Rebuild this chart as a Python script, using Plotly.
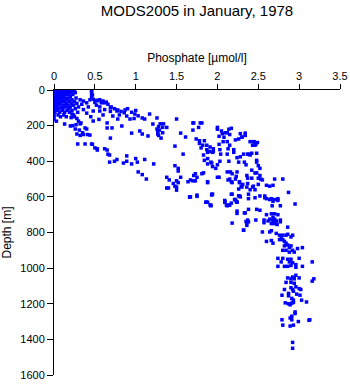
import plotly.graph_objects as go

surface_obs = [
    (0.00,0),(0.04,0),(0.08,0),(0.12,0),(0.16,0),(0.20,0),(0.25,0),
    (0.01,8),(0.05,8),(0.09,8),(0.13,8),(0.17,8),(0.22,8),
    (0.00,15),(0.03,15),(0.07,15),(0.11,15),(0.15,15),(0.19,15),(0.26,15),
    (0.02,25),(0.06,25),(0.10,25),(0.14,25),(0.18,25),(0.23,25),
    (0.00,35),(0.04,35),(0.08,35),(0.12,35),(0.20,35),
    (0.01,45),(0.05,45),(0.09,45),(0.14,45),(0.18,45),(0.27,45),
    (0.00,55),(0.03,55),(0.07,55),(0.11,55),(0.16,55),(0.22,55),
    (0.02,65),(0.06,65),(0.10,65),(0.13,65),(0.19,65),(0.25,65),
    (0.00,75),(0.04,75),(0.08,75),(0.15,75),(0.21,75),(0.28,75),
    (0.01,85),(0.05,85),(0.12,85),(0.17,85),(0.24,85),
    (0.00,95),(0.03,95),(0.09,95),(0.14,95),(0.20,95),(0.30,95),
    (0.02,105),(0.06,105),(0.11,105),(0.18,105),(0.26,105),
    (0.00,115),(0.04,115),(0.10,115),(0.16,115),(0.22,115),
    (0.01,125),(0.07,125),(0.13,125),(0.19,125),(0.29,125),
    (0.00,140),(0.05,140),(0.12,140),(0.24,140),
    (0.00,150),(0.08,150),(0.15,150),(0.21,155),
    (0.00,165),(0.03,175),
    (0.46,0),(0.46,8),(0.46,18),(0.47,28),(0.46,38),
    (0.44,55),(0.48,52),(0.52,58),(0.56,55),(0.60,62),(0.50,70),(0.58,72),(0.64,68),
    (0.32,55),(0.36,62),(0.40,72),(0.34,80),
]

upper_obs = [
    (0.69,100),(0.69,120),(0.77,118),(0.87,112),(0.99,135),(0.93,163),(1.08,157),
    (1.11,163),(1.17,135),(1.26,157),(1.21,191),(1.26,219),(1.05,230),(1.08,247),
    (1.15,258),(1.27,247),(0.95,242),(0.83,202),(0.65,213),(0.71,213),(0.69,270),
    (0.62,330),(0.66,360),(0.53,330),(0.46,303),(0.50,325),(0.29,303),(0.38,303),
    (0.28,247),(0.36,250),(0.44,253),(0.40,219),(0.26,219),(0.13,191),(0.20,202),
    (0.32,190),(0.38,213),(0.48,174),(0.56,118),(0.48,118),(0.72,146),(0.78,163),
    (0.89,146),(0.65,185),
    (0.53,60),(0.58,65),(0.62,72),(0.66,80),(0.70,95),(0.74,105),(0.78,112),(0.82,120),
    (0.86,128),(0.62,110),(0.56,95),(0.52,85),(0.90,105),(0.95,125),(1.00,115),
    (1.03,145),(0.98,160),(0.80,140),(0.60,140),(0.55,165),(0.45,150),(0.40,130),
    (0.36,110),(0.42,95),
    (0.22,135),(0.25,150),(0.28,160),(0.30,175),(0.33,185),(0.27,195),(0.23,200),
    (0.31,225),(0.35,240),(0.32,255),(0.41,250),(0.47,305),
]

middle_obs = [
    (0.53,337),(0.65,337),(0.68,365),(0.77,390),(0.74,400),(0.68,405),(0.89,370),
    (0.89,400),(0.95,415),(0.85,410),(1.00,385),(1.02,405),(1.11,390),(1.03,460),
    (1.08,475),(1.13,500),(1.22,415),(1.38,490),(1.38,550),(1.48,425),(1.52,455),
    (1.50,510),(1.50,545),(1.46,525),(1.58,360),(1.64,515),(1.70,510),(1.71,480),
    (1.66,600),(1.75,597),(1.83,365),(1.88,385),(1.93,410),(1.94,350),(1.88,350),
    (1.88,515),(1.94,585),(1.86,630),(1.92,650),(2.00,490),(2.03,400),(2.04,360),
    (2.12,360),(2.14,400),(2.20,350),(2.12,460),(2.16,460),(2.18,470),(2.24,460),
    (2.23,485),(2.13,505),(2.18,520),(2.15,500),(2.24,380),(2.28,375),(2.26,405),
    (2.33,405),(2.35,420),(2.37,360),(2.32,360),(2.27,520),(2.29,540),(2.26,556),
    (2.37,495),(2.18,585),(2.27,595),(2.09,620),(2.11,646),(2.15,646),(2.21,615),
    (2.24,630),(2.38,585),(2.38,610),(2.24,680),(2.33,690),(2.38,670),(2.36,745),
    (2.38,740),(2.32,787),
    (1.30,190),(1.34,190),(1.28,205),(1.33,210),(1.38,210),(1.29,225),(1.27,235),
    (1.33,240),(1.28,255),(1.31,270),(1.48,315),(1.55,242),(1.61,264),(1.70,185),
    (1.79,185),(1.77,210),(1.70,225),(1.74,275),(1.78,285),(1.78,300),(1.84,285),
    (1.87,310),(1.82,310),(1.80,325),(1.87,335),(1.91,320),(1.95,330),(1.95,345),
    (1.90,345),(2.00,220),(2.02,260),(2.06,245),(2.08,265),(2.10,240),(2.14,220),
    (2.15,250),(2.07,290),(2.02,305),(2.03,335),(2.12,290),(2.15,310),(2.13,330),
    (2.20,335),(2.22,280),(2.28,245),(2.30,265),(2.34,255),(2.26,275),(2.40,290),
    (2.45,290),(2.43,310),(2.47,305),(2.49,295),(2.38,360),(2.40,365),(2.42,355),
    (2.48,355),(2.48,395),(1.84,395),(1.92,405),(1.88,415),(2.00,420),(1.94,430),
    (1.98,440),(1.73,470),(1.75,490),(1.73,510),(1.67,505),(1.52,440),(1.55,490),
    (1.41,505),(1.52,520),(1.48,540),(1.40,550),(1.81,470),(1.83,465),(1.88,520),
    (2.02,490),(2.17,515),(2.22,500),(2.27,515),(2.31,530),(2.30,545),(2.36,480),
    (2.42,495),(2.48,465),(2.52,480),(2.53,500),(2.37,525),(2.44,540),(2.50,530),
    (1.93,590),(1.67,600),(1.88,630),(1.91,645),(2.09,630),(2.17,635),(2.23,625),
    (2.12,650),(2.28,600),(2.46,605),(2.52,595),(2.58,595),(2.60,610),(2.64,615),
    (2.70,615),(2.68,625),(2.74,610),(2.34,690),(2.48,670),(2.52,675),(2.60,700),
    (2.66,695),(2.70,695),(2.74,700),(2.68,715),(2.70,725),(2.72,735),(2.64,725),
    (2.62,735),(2.66,750),(2.70,750),(2.18,747),(2.36,760),
    (1.50,163),(1.71,185),(1.81,185),(2.00,210),(2.05,230),(2.12,240),(2.17,215),
    (2.34,242),(2.30,264),(2.44,290),(2.46,310),(2.48,405),(2.50,425),(2.52,440),
    (2.42,450),(2.46,466),(2.50,495),(2.55,505),(2.43,545),(2.46,560),(2.36,545),
    (2.40,560),(2.87,575),(2.95,640),(2.70,500),(2.80,500),(2.60,535),(2.64,540),
    (2.68,535),(2.58,605),(2.66,610),(2.74,620),(2.67,650),(2.77,650),
    (1.50,562),(1.66,601),(1.75,590),(1.86,630),(1.92,647),(1.93,585),(2.09,628),
    (2.14,646),(2.17,585),(2.22,615),(2.24,630),(2.26,594),(2.24,693),
]

deep_obs = [
    (2.35,738),(2.37,730),(2.47,730),(2.57,730),(2.57,745),(2.67,730),(2.71,735),
    (2.69,745),(2.77,730),(2.77,740),(2.73,755),(2.32,787),(2.55,797),(2.64,797),
    (2.66,790),(2.72,805),(2.76,815),(2.80,815),(2.78,830),(2.84,815),(2.86,810),
    (2.90,825),(2.92,815),(2.86,770),(2.60,850),(2.66,845),(2.68,860),(2.76,840),
    (2.80,840),(2.82,850),(2.84,860),(2.82,875),(2.86,870),(2.88,885),(2.90,875),
    (2.80,900),(2.84,900),(2.88,910),(2.92,900),(2.94,910),(2.98,890),(3.04,885),
    (2.74,945),(2.80,945),(2.86,950),(2.90,950),(2.88,965),(2.92,970),(2.96,980),
    (3.00,945),(3.04,990),(3.16,965),(2.78,965),(2.74,990),(2.82,990),(2.86,990),
    (2.90,985),(2.96,995),(2.96,1040),(2.92,1050),(2.86,1055),(2.90,1060),(2.94,1060),
    (3.00,1055),(3.18,1060),(2.84,1080),(2.90,1080),(2.94,1085),(2.96,1105),(2.90,1110),
    (2.92,1120),(2.82,1120),(3.02,1120),(3.00,1115),(3.16,1073),(3.12,1293),
    (2.79,1152),(2.87,1142),(2.87,1155),(2.97,1146),(3.01,1152),(2.93,1130),
    (2.91,1170),(2.93,1180),(2.83,1195),(2.87,1200),(2.89,1206),(2.91,1197),
    (2.93,1192),(3.03,1180),(3.09,1190),
    (2.95,1246),(2.95,1255),(2.91,1270),(2.89,1280),(2.91,1290),(2.79,1290),
    (2.99,1300),(3.13,1290),(2.80,1320),(2.89,1325),(2.93,1320),
    (2.92,1417),(2.92,1450),
]

x_ticks = [0, 0.5, 1, 1.5, 2, 2.5, 3, 3.5]
y_ticks = [0, 200, 400, 600, 800, 1000, 1200, 1400, 1600]

all_obs = surface_obs + upper_obs + middle_obs + deep_obs
phosphate = [p for p, d in all_obs]
depth = [d for p, d in all_obs]

FONT = "Liberation Sans, Arial, Helvetica, sans-serif"

fig = go.Figure(go.Scatter(
    x=phosphate, y=depth, mode="markers",
    marker=dict(symbol="square", size=3.5, color="#0000ff", line=dict(width=0)),
    hoverinfo="skip",
))

fig.update_layout(
    width=350, height=384,
    margin=dict(l=54, r=10, t=90, b=9, autoexpand=False),
    paper_bgcolor="white", plot_bgcolor="white",
    showlegend=False,
    font=dict(family=FONT, size=11, color="black"),
    title=dict(text="MODS2005 in January, 1978", x=(54 + 340) / 2 / 350, xanchor="center",
               y=1 - 11 / 384, yanchor="middle", yref="container",
               font=dict(family=FONT, size=15, color="black")),
    xaxis=dict(side="top", range=[0, 3.5], tickvals=x_ticks,
               ticktext=[str(v) for v in x_ticks], automargin=False,
               showline=True, linecolor="black", linewidth=1,
               ticks="outside", ticklen=5, tickcolor="black", tickwidth=1,
               showgrid=False, zeroline=False,
               title=dict(text="Phosphate [µmol/l]", standoff=4,
                          font=dict(family=FONT, size=12))),
    yaxis=dict(range=[1600, 0], tickvals=y_ticks,
               ticktext=[str(v) for v in y_ticks], automargin=False,
               showline=True, linecolor="black", linewidth=1,
               ticks="outside", ticklen=6, tickcolor="black", tickwidth=1,
               showgrid=False, zeroline=False,
               title=dict(text="Depth [m]", standoff=6,
                          font=dict(family=FONT, size=12))),
)

fig.write_html("out.html")
